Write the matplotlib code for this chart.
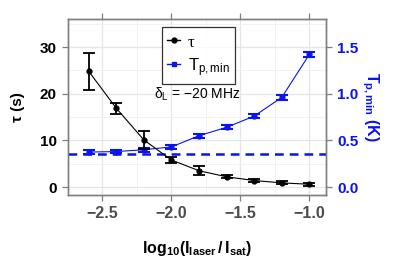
import matplotlib
matplotlib.use("Agg")
import matplotlib.pyplot as plt
import numpy as np
from matplotlib.lines import Line2D

plt.rcParams['font.family'] = ['Liberation Sans', 'DejaVu Sans']
plt.rcParams['mathtext.fontset'] = 'custom'
plt.rcParams['mathtext.rm'] = 'Liberation Sans'
plt.rcParams['mathtext.it'] = 'Liberation Sans:italic'
plt.rcParams['mathtext.bf'] = 'Liberation Sans:bold'

log_ratio = [-2.6, -2.4, -2.2, -2.0, -1.8, -1.6, -1.4, -1.2, -1.0]
tau = [24.8, 16.9, 10.1, 5.8, 3.5, 2.2, 1.4, 0.9, 0.6]
tau_err = [4.0, 1.2, 1.9, 0.6, 1.0, 0.3, 0.3, 0.3, 0.3]
tp_min = [0.375, 0.38, 0.40, 0.43, 0.55, 0.64, 0.76, 0.96, 1.42]
tp_err = [0.02, 0.02, 0.02, 0.02, 0.02, 0.02, 0.025, 0.03, 0.025]
tp_limit = 0.354

blue = '#0a14f0'
gray = '#7f7f7f'

fig = plt.figure(figsize=(3.99, 2.66), dpi=100)
ax = fig.add_axes([68/399, 1-195/266, (326-68)/399, (195-19)/266])
ax2 = ax.twinx()

ax.set_xlim(-2.721, -0.879)
ax.set_ylim(-1.7, 36)
ax2.set_ylim(-0.085, 1.8)

ax.set_xticks([-2.5, -2.0, -1.5, -1.0])
ax.set_xticklabels(['\u22122.5', '\u22122.0', '\u22121.5', '\u22121.0'])
ax.set_xticks([-2.75, -2.25, -1.75, -1.25], minor=True)
ax.set_yticks([0, 10, 20, 30])
ax.set_yticks([5, 15, 25, 35], minor=True)
ax2.set_yticks([0.0, 0.5, 1.0, 1.5])
ax2.set_yticklabels(['0.0', '0.5', '1.0', '1.5'])

ax.grid(True, which='major', color='#e6e6e6', lw=0.9)
ax.grid(True, which='minor', color='#f0f0f0', lw=0.6)
ax.set_axisbelow(True)

for a in (ax, ax2):
    for s in a.spines.values():
        s.set_color(gray)
        s.set_linewidth(1.0)

ax.tick_params(axis='both', which='major', direction='out', length=4, color=gray, width=0.9)
ax.tick_params(axis='x', which='major', top=True)
ax.tick_params(axis='both', which='minor', length=0)
ax.tick_params(axis='x', labelsize=11.5, labelcolor='#4d4d4d', pad=4)
ax.tick_params(axis='y', labelsize=11, labelcolor='black', pad=4)
ax2.tick_params(axis='y', direction='out', length=4, color=gray, width=0.9, labelsize=11, labelcolor=blue, pad=4)
for lab in ax.get_xticklabels() + ax.get_yticklabels() + ax2.get_yticklabels():
    lab.set_fontweight('bold')

ax2.axhline(tp_limit, color=blue, lw=1.8, ls=(0, (3.5, 2.4)), zorder=1)

ax2.errorbar(log_ratio, tp_min, yerr=tp_err, color=blue, lw=0.8, marker='o', ms=3.5,
             capsize=4, elinewidth=1.5, capthick=1.5, zorder=3)
ax2.errorbar(log_ratio, np.array(tau) / 20.0, yerr=np.array(tau_err) / 20.0, color='black', lw=0.8,
             marker='o', ms=3.5, capsize=4, elinewidth=1.3, capthick=1.3, zorder=4)

ax.set_ylabel('\u03c4 (s)', fontsize=11, fontweight='bold', labelpad=11)
ax2.set_ylabel(r'$\mathbf{T_{p,min}}$ (K)', fontsize=11.5, fontweight='bold', color=blue, rotation=270, labelpad=16)
ax.set_xlabel(r'$\mathbf{log_{10}(I_{laser}\,/\,I_{sat})}$', fontsize=11.5, labelpad=13)

hl1 = Line2D([], [], color='black', marker='o', ms=3.5, lw=1)
hl2 = Line2D([], [], color=blue, marker='s', ms=3.5, lw=1)
leg = ax2.legend([hl1, hl2], ['\u03c4', r'$\mathrm{T_{p,min}}$'], loc='upper left',
                 bbox_to_anchor=((162 - 68) / 258, 1 - (27 - 19) / 176), fontsize=12,
                 frameon=True, fancybox=False, handlelength=0.8, handletextpad=0.45,
                 borderpad=0.3, labelspacing=0.3, handleheight=1.42, borderaxespad=0)
leg.get_frame().set_edgecolor('black')
leg.get_frame().set_linewidth(0.9)
leg.get_texts()[0].set_fontfamily(['Liberation Serif', 'DejaVu Serif'])

ax2.text(0.5, 0.575, r'$\mathrm{\delta_L}$ = ' + '\u221220 MHz', transform=ax2.transAxes,
         fontsize=10, ha='center', va='center', zorder=10)

fig.savefig('out.png', dpi=100)
